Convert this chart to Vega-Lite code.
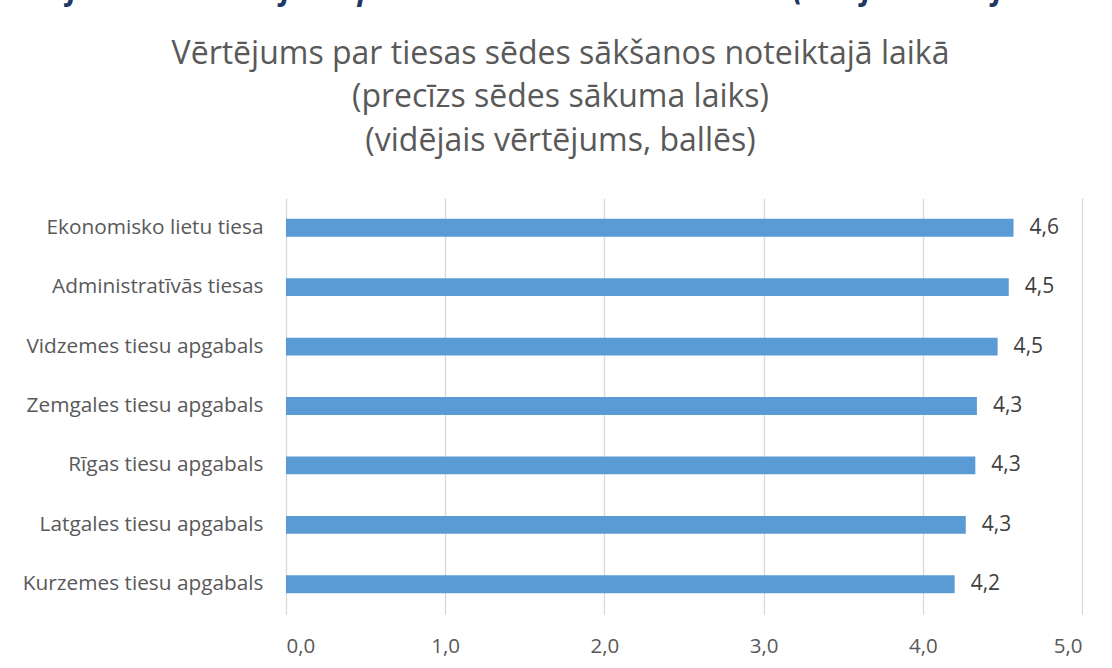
{
  "$schema": "https://vega.github.io/schema/vega-lite/v6.json",
  "width": 796,
  "height": 416,
  "autosize": {"type": "none"},
  "padding": {"left": 286, "top": 198, "right": 30, "bottom": 54},
  "background": "white",
  "config": {
    "locale": {"number": {"decimal": ",", "thousands": " ", "grouping": [3], "currency": ["", " €"]}},
    "view": {"stroke": null},
    "font": "Open Sans"
  },
  "title": {
    "text": "Grafiks RK-8. Vērtējums par tiesas sēžu sākšanos laikā (vidējais vērtējums ballēs)",
    "fontSize": 30,
    "font": "Open Sans",
    "fontStyle": "italic",
    "fontWeight": "bold",
    "color": "#1F3864",
    "anchor": "start",
    "frame": "group",
    "dx": -270,
    "offset": 31
  },
  "data": {
    "values": [
      {"court": "Ekonomisko lietu tiesa", "v": 4.57},
      {"court": "Administratīvās tiesas", "v": 4.54},
      {"court": "Vidzemes tiesu apgabals", "v": 4.47},
      {"court": "Zemgales tiesu apgabals", "v": 4.34},
      {"court": "Rīgas tiesu apgabals", "v": 4.33},
      {"court": "Latgales tiesu apgabals", "v": 4.27},
      {"court": "Kurzemes tiesu apgabals", "v": 4.2}
    ]
  },
  "encoding": {
    "y": {
      "field": "court",
      "type": "nominal",
      "sort": null,
      "scale": {"paddingInner": 0.7, "paddingOuter": 0.35},
      "axis": {
        "domain": false,
        "ticks": false,
        "labelFontSize": 20.8,
        "labelColor": "#595959",
        "labelPadding": 23,
        "labelLimit": 300,
        "title": ["Vērtējums par tiesas sēdes sākšanos noteiktajā laikā", "(precīzs sēdes sākuma laiks)", "(vidējais vērtējums, ballēs)"],
        "titleAngle": 0,
        "titleAlign": "center",
        "titleBaseline": "alphabetic",
        "titleX": 274,
        "titleY": -135,
        "titleLineHeight": 43.5,
        "titleFontSize": 32,
        "titleFontWeight": "normal",
        "titleColor": "#595959"
      }
    },
    "x": {
      "field": "v",
      "type": "quantitative",
      "scale": {"domain": [0, 5]},
      "axis": {
        "values": [0, 1, 2, 3, 4, 5],
        "format": ".1f",
        "grid": true,
        "gridColor": "#D9D9D9",
        "gridWidth": 1.3,
        "domain": false,
        "ticks": false,
        "labelFontSize": 20.5,
        "labelColor": "#595959",
        "labelPadding": 22,
        "title": null
      }
    }
  },
  "layer": [
    {"mark": {"type": "bar", "color": "#5B9BD5"}},
    {
      "mark": {"type": "text", "align": "left", "baseline": "middle", "dx": 16, "fontSize": 21, "color": "#404040"},
      "encoding": {"text": {"field": "v", "type": "quantitative", "format": ".1f"}}
    }
  ]
}
